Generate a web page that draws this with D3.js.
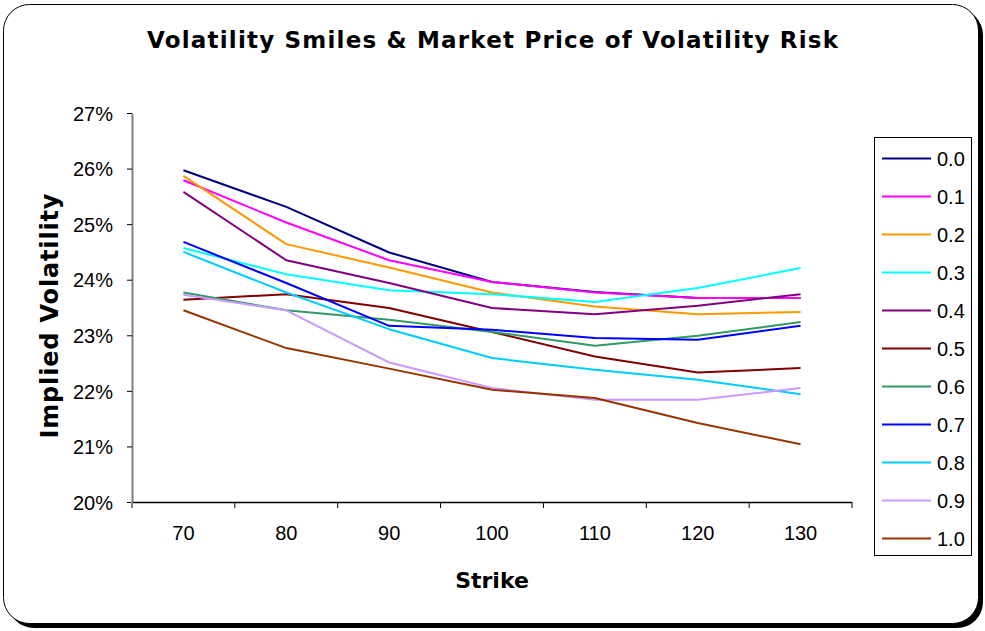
<!DOCTYPE html>
<html>
<head>
<meta charset="utf-8">
<script src="https://cdn.jsdelivr.net/npm/d3@7/dist/d3.min.js"></script>
<style>
  html, body { margin: 0; padding: 0; background: #fff; }
  svg { display: block; }
</style>
</head>
<body>
<svg id="chart" width="985" height="631"></svg>
<script>
// ---- Data ----
const strikes = [70, 80, 90, 100, 110, 120, 130];
const seriesNames = ["0.0", "0.1", "0.2", "0.3", "0.4", "0.5", "0.6", "0.7", "0.8", "0.9", "1.0"];
const s00 = [25.97, 25.31, 24.49, 23.96, 23.78, 23.67, 23.67];
const s01 = [25.79, 25.03, 24.35, 23.96, 23.77, 23.67, 23.67];
const s02 = [25.87, 24.64, 24.22, 23.77, 23.52, 23.38, 23.42];
const s03 = [24.57, 24.10, 23.81, 23.74, 23.60, 23.85, 24.21];
const s04 = [25.58, 24.35, 23.94, 23.49, 23.38, 23.53, 23.74];
const s05 = [23.64, 23.74, 23.49, 23.06, 22.62, 22.33, 22.41];
const s06 = [23.77, 23.45, 23.28, 23.06, 22.81, 22.99, 23.24];
const s07 = [24.68, 23.94, 23.17, 23.10, 22.95, 22.92, 23.17];
const s08 = [24.50, 23.77, 23.11, 22.59, 22.38, 22.20, 21.94];
const s09 = [23.73, 23.45, 22.51, 22.05, 21.84, 21.84, 22.05];
const s10 = [23.45, 22.77, 22.40, 22.02, 21.87, 21.42, 21.04];
const seriesValues = [s00, s01, s02, s03, s04, s05, s06, s07, s08, s09, s10];
const seriesColors = ["#000080", "#FF00FF", "#FF9900", "#00FFFF", "#800080", "#800000",
                      "#339966", "#0000FF", "#00CCFF", "#CC99FF", "#993300"];
const yTicks = [0.20, 0.21, 0.22, 0.23, 0.24, 0.25, 0.26, 0.27];
const titleText = "Volatility Smiles & Market Price of Volatility Risk";
const xTitle = "Strike";
const yTitle = "Implied Volatility";

// ---- Layout ----
const svg = d3.select("#chart");
const plot = { left: 132, right: 852, top: 113, bottom: 502 };

// Frame with shadow
svg.append("rect").attr("x", 8).attr("y", 9).attr("width", 975).attr("height", 619)
  .attr("rx", 26).attr("ry", 26).attr("fill", "#000");
svg.append("rect").attr("x", 3.5).attr("y", 4.5).attr("width", 975).attr("height", 619)
  .attr("rx", 26).attr("ry", 26).attr("fill", "#fff").attr("stroke", "#000").attr("stroke-width", 1);

// Scales
const x = d3.scaleBand().domain(strikes).range([plot.left, plot.right]).padding(0);
const cx = s => x(s) + x.bandwidth() / 2;
const y = d3.scaleLinear().domain([0.20, 0.27]).range([plot.bottom, plot.top]);

// Y axis
const yAxis = svg.append("g").attr("transform", `translate(${plot.left},0)`)
  .call(d3.axisLeft(y).tickValues(yTicks).tickFormat(d3.format(".0%")).tickSize(5).tickPadding(14).tickSizeOuter(0));
yAxis.select(".domain").attr("stroke", "#808080").attr("stroke-width", 2);
yAxis.selectAll(".tick line").attr("stroke", "#000").attr("stroke-width", 1);
yAxis.selectAll(".tick text").attr("font-family", "'Liberation Sans', Arial, sans-serif")
  .attr("font-size", 20).attr("fill", "#000").attr("dy", "0.36em");

// X axis line + boundary ticks
const xg = svg.append("g");
xg.append("line").attr("x1", plot.left).attr("x2", plot.right)
  .attr("y1", plot.bottom + 0.5).attr("y2", plot.bottom + 0.5).attr("stroke", "#000").attr("stroke-width", 1.5);
const bounds = strikes.map(s => x(s)).concat([x.range()[1]]);
xg.selectAll("line.bt").data(bounds).join("line").attr("class", "bt")
  .attr("x1", d => d).attr("x2", d => d).attr("y1", plot.bottom).attr("y2", plot.bottom + 6)
  .attr("stroke", (d, i) => i === 0 ? "#808080" : "#000").attr("stroke-width", (d, i) => i === 0 ? 2 : 1);
xg.selectAll("text.xl").data(strikes).join("text").attr("class", "xl")
  .attr("x", d => cx(d)).attr("y", plot.bottom + 38).attr("text-anchor", "middle")
  .attr("font-family", "'Liberation Sans', Arial, sans-serif").attr("font-size", 20).attr("fill", "#000")
  .text(d => d);

// Lines
const line = d3.line().x((d, i) => cx(strikes[i])).y(d => y(d / 100));
svg.append("g").selectAll("path").data(seriesValues).join("path")
  .attr("d", d => line(d)).attr("fill", "none")
  .attr("stroke", (d, i) => seriesColors[i]).attr("stroke-width", 2)
  .attr("stroke-linejoin", "round");

// Titles
svg.append("text").attr("x", 492.5).attr("y", 48).attr("text-anchor", "middle")
  .attr("font-family", "'DejaVu Sans', Verdana, sans-serif").attr("font-weight", "bold")
  .attr("font-size", 23).attr("textLength", 691).attr("lengthAdjust", "spacing").text(titleText);
svg.append("text").attr("x", 492).attr("y", 588).attr("text-anchor", "middle")
  .attr("font-family", "'DejaVu Sans', Verdana, sans-serif").attr("font-weight", "bold")
  .attr("font-size", 22).text(xTitle);
svg.append("text").attr("transform", "translate(58,316) rotate(-90)").attr("text-anchor", "middle")
  .attr("font-family", "'DejaVu Sans', Verdana, sans-serif").attr("font-weight", "bold")
  .attr("font-size", 24).attr("textLength", 245).attr("lengthAdjust", "spacing").text(yTitle);

// Legend
const lg = svg.append("g");
lg.append("rect").attr("x", 874.5).attr("y", 137.5).attr("width", 97).attr("height", 418)
  .attr("fill", "#fff").attr("stroke", "#000").attr("stroke-width", 1);
const ly = d3.scalePoint().domain(seriesNames).range([158.5, 538.5]);
const items = lg.selectAll("g.item").data(seriesNames).join("g").attr("class", "item")
  .attr("transform", d => `translate(0,${ly(d)})`);
items.append("line").attr("x1", 882).attr("x2", 931).attr("y1", 0).attr("y2", 0)
  .attr("stroke", (d, i) => seriesColors[i]).attr("stroke-width", 2);
items.append("text").attr("x", 937).attr("y", 7)
  .attr("font-family", "'Liberation Sans', Arial, sans-serif").attr("font-size", 20).attr("fill", "#000")
  .text(d => d);
</script>
</body>
</html>
